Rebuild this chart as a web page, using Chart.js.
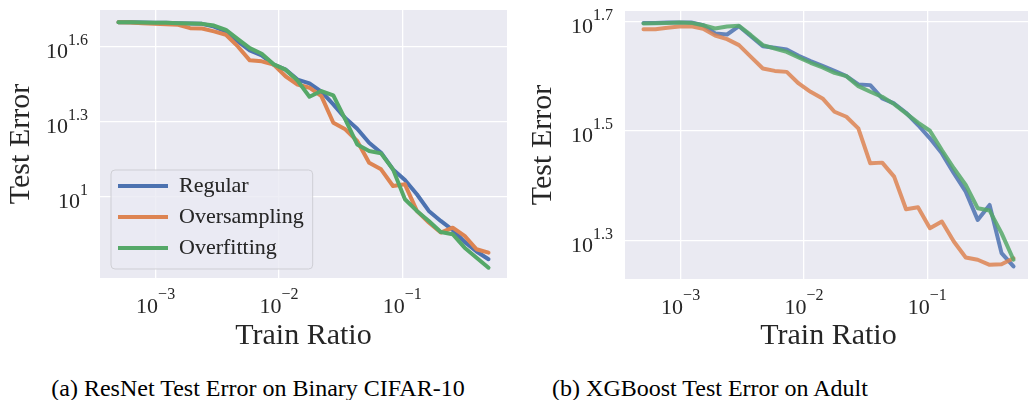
<!DOCTYPE html>
<html>
<head>
<meta charset="utf-8">
<script src="https://cdn.jsdelivr.net/npm/chart.js@4.4.1/dist/chart.umd.min.js"></script>
<style>
    html, body { margin: 0; padding: 0; background: #ffffff; }
    body { position: relative; width: 1028px; height: 400px; overflow: hidden; font-family: 'Liberation Serif', 'DejaVu Serif', serif; }
    #resnetChart { position: absolute; left: 0; top: 0; }
    #xgbChart { position: absolute; left: 520px; top: 0; }
    .caption { position: absolute; top: 375px; height: 26px; line-height: 26px; font-size: 24px; color: #000; text-align: center; white-space: nowrap; }
</style>
</head>
<body>
<canvas id="resnetChart" width="520" height="360"></canvas>
<canvas id="xgbChart" width="520" height="360"></canvas>
<div class="caption" style="left: 0; width: 516px;">(a) ResNet Test Error on Binary CIFAR-10</div>
<div class="caption" style="left: 455px; width: 510px;">(b) XGBoost Test Error on Adult</div>
<script>
// Train ratios shared by both panels
const trainRatio = [0.0005, 0.000625, 0.000781, 0.000976, 0.001219, 0.001524, 0.001904, 0.002379,
    0.002972, 0.003714, 0.004641, 0.005799, 0.007246, 0.009054, 0.01131, 0.01414,
    0.01767, 0.02208, 0.02759, 0.03447, 0.04308, 0.05383, 0.06726, 0.08405,
    0.1050, 0.1312, 0.1640, 0.2049, 0.2561, 0.3200, 0.3998, 0.5];

// (a) ResNet, Binary CIFAR-10
const resnetRegular = [49.77, 49.70, 49.62, 49.55, 49.47, 49.32, 49.17, 49.02, 47.83, 45.72, 41.70, 38.37, 36.66, 33.65, 32.14, 29.33,
    28.31, 26.23, 23.33, 20.57, 18.65, 16.39, 14.95, 12.82, 11.62, 10.19, 8.74, 7.97, 7.33, 6.57, 6.01, 5.60];
const resnetOversampling = [49.77, 49.62, 49.32, 49.02, 48.87, 48.57, 47.11, 46.97, 45.72, 44.32, 39.81, 35.02, 34.70, 33.65, 30.24, 28.02,
    27.21, 25.19, 19.71, 18.54, 16.65, 13.63, 12.82, 11.00, 11.17, 8.74, 7.85, 7.16, 7.49, 6.94, 6.14, 5.95];
const resnetOverfitting = [49.77, 49.70, 49.62, 49.55, 49.47, 49.32, 49.17, 49.02, 48.27, 46.41, 42.60, 39.21, 37.23, 33.76, 32.14, 29.06,
    25.04, 26.39, 25.35, 20.32, 16.14, 15.18, 14.86, 12.82, 9.73, 8.74, 7.97, 7.20, 7.05, 6.23, 5.68, 5.18];

// (b) XGBoost, Adult
const xgbRegular = [49.84, 49.84, 49.91, 49.91, 49.91, 49.35, 47.66, 47.46, 49.15, 47.13, 45.19, 44.87, 44.56, 43.39, 42.43, 41.60,
    40.74, 39.83, 38.46, 38.35, 36.26, 35.50, 34.14, 32.42, 30.65, 28.77, 26.46, 24.49, 21.74, 23.15, 18.90, 17.87];
const xgbOversampling = [48.54, 48.54, 48.81, 49.08, 49.15, 48.61, 47.26, 46.54, 45.38, 43.20, 41.13, 40.72, 40.55, 38.62, 37.29, 36.26,
    34.28, 33.57, 31.96, 27.59, 27.67, 26.09, 22.74, 22.93, 20.99, 21.59, 19.85, 18.56, 18.38, 17.99, 18.04, 18.50];
const xgbOverfitting = [49.70, 49.77, 49.84, 49.91, 49.84, 49.35, 48.67, 49.08, 49.22, 47.33, 45.38, 44.75, 44.12, 43.09, 42.13, 41.31,
    40.39, 39.83, 38.19, 37.29, 36.51, 35.40, 34.05, 32.74, 31.65, 29.18, 27.02, 25.19, 22.84, 22.61, 20.56, 18.38];

const seriesNames = ['Regular', 'Oversampling', 'Overfitting'];
const seriesColors = ['76, 114, 176', '221, 132, 82', '85, 168, 104'];

// tick exponents (labels are 10^exp)
const xTickExps = [-3, -2, -1];
const resnetYTickExps = [1, 1.3, 1.6];
const xgbYTickExps = [1.3, 1.5, 1.7];

const serif = "'Liberation Serif', 'DejaVu Serif', serif";
const textColor = '#262626';
Chart.defaults.font.family = serif;
Chart.defaults.color = textColor;

// axes background
const panelBackground = {
    id: 'panelBackground',
    beforeDraw(chart) {
        const {ctx, chartArea} = chart;
        ctx.save();
        ctx.fillStyle = '#EAEAF2';
        ctx.fillRect(chartArea.left, chartArea.top, chartArea.right - chartArea.left, chartArea.bottom - chartArea.top);
        ctx.restore();
    }
};

// "10" with a raised exponent
function drawPowerLabel(ctx, exp, x, baseY, supY, align) {
    const sup = String(exp).replace('-', '\u2212');
    ctx.font = '22px ' + serif;
    const wb = ctx.measureText('10').width;
    ctx.font = '16px ' + serif;
    const ws = ctx.measureText(sup).width;
    const x0 = align === 'center' ? x - (wb + ws) / 2 : x - wb - ws;
    ctx.font = '22px ' + serif;
    ctx.fillText('10', x0, baseY);
    ctx.font = '16px ' + serif;
    ctx.fillText(sup, x0 + wb, supY);
}

const powerTicks = {
    id: 'powerTicks',
    afterDraw(chart, args, opts) {
        const {ctx, chartArea, scales} = chart;
        ctx.save();
        ctx.fillStyle = textColor;
        ctx.textAlign = 'left';
        ctx.textBaseline = 'alphabetic';
        opts.x.forEach(exp => {
            const px = scales.x.getPixelForValue(Math.pow(10, exp));
            drawPowerLabel(ctx, exp, px, chartArea.bottom + 35, chartArea.bottom + 21, 'center');
        });
        opts.y.forEach(exp => {
            const py = scales.y.getPixelForValue(Math.pow(10, exp));
            drawPowerLabel(ctx, exp, chartArea.left - 12, py + 11.5, py - 1.5, 'right');
        });
        ctx.restore();
    }
};

// legend inside the axes, lower left, with a frame
const legendFrame = {
    id: 'legendFrame',
    afterLayout(chart) {
        const lg = chart.legend;
        if (!lg || !lg.options.display) return;
        const area = chart.chartArea;
        lg.left = area.left + 9;
        lg.right = area.right;
        lg.top = area.top + 156;
        lg.bottom = area.bottom;
    },
    beforeDatasetsDraw(chart) {
        const lg = chart.legend;
        if (!lg || !lg.options.display) return;
        const boxes = lg.legendHitBoxes;
        const x0 = boxes[0].left - 7;
        const y0 = boxes[0].top - 5;
        const x1 = Math.max(...boxes.map(b => b.left + b.width)) + 9;
        const last = boxes[boxes.length - 1];
        const y1 = last.top + last.height + 10;
        const r = 4;
        const ctx = chart.ctx;
        ctx.save();
        ctx.beginPath();
        ctx.moveTo(x0 + r, y0);
        ctx.arcTo(x1, y0, x1, y1, r);
        ctx.arcTo(x1, y1, x0, y1, r);
        ctx.arcTo(x0, y1, x0, y0, r);
        ctx.arcTo(x0, y0, x1, y0, r);
        ctx.closePath();
        ctx.fillStyle = 'rgba(234, 234, 242, 0.8)';
        ctx.fill();
        ctx.lineWidth = 1;
        ctx.strokeStyle = 'rgba(204, 204, 210, 0.9)';
        ctx.stroke();
        ctx.restore();
        lg.draw();
    }
};

function makeDataset(index, values, alpha) {
    return {
        label: seriesNames[index],
        data: trainRatio.map((x, i) => ({x: x, y: values[i]})),
        borderColor: `rgba(${seriesColors[index]}, ${alpha})`,
        backgroundColor: `rgba(${seriesColors[index]}, ${alpha})`,
        borderWidth: 4,
        pointRadius: 0,
        tension: 0,
        borderJoinStyle: 'round',
        borderCapStyle: 'round',
        order: 2 - index
    };
}

// Render one panel
function renderPanel(canvasId, series, yTickExps, yMin, yMax, panel) {
    const ctx = document.getElementById(canvasId).getContext('2d');
    new Chart(ctx, {
        type: 'line',
        data: {
            datasets: series.map((values, i) => makeDataset(i, values, panel.alpha))
        },
        options: {
            responsive: false,
            animation: false,
            events: [],
            layout: {
                autoPadding: false,
                padding: {left: 0, top: panel.top, right: panel.right, bottom: 0}
            },
            scales: {
                x: {
                    type: 'logarithmic',
                    min: 0.000354,
                    max: 0.706,
                    afterBuildTicks: scale => { scale.ticks = xTickExps.map(e => ({value: Math.pow(10, e)})); },
                    afterFit: scale => { scale.height = 360 - panel.top - 268; },
                    ticks: {display: false},
                    grid: {color: '#ffffff', lineWidth: 1.3, drawTicks: false},
                    border: {display: false},
                    title: {display: true, text: 'Train Ratio', font: {size: 30}, color: textColor, padding: {top: 0, bottom: 6}}
                },
                y: {
                    type: 'logarithmic',
                    min: yMin,
                    max: yMax,
                    afterBuildTicks: scale => { scale.ticks = yTickExps.map(e => ({value: Math.pow(10, e)})); },
                    afterFit: scale => { scale.width = panel.axisWidth; },
                    ticks: {display: false},
                    grid: {color: '#ffffff', lineWidth: 1.3, drawTicks: false},
                    border: {display: false},
                    title: {display: true, text: 'Test Error', font: {size: 30}, color: textColor, padding: {top: panel.titlePad, bottom: 0}}
                }
            },
            plugins: {
                tooltip: {enabled: false},
                legend: {
                    display: panel.legend,
                    position: 'chartArea',
                    align: 'start',
                    labels: {
                        boxWidth: 50,
                        boxHeight: 4,
                        padding: 9,
                        color: textColor,
                        font: {size: 22},
                        sort: (a, b) => a.datasetIndex - b.datasetIndex,
                        generateLabels: chart => Chart.defaults.plugins.legend.labels.generateLabels(chart)
                            .map(item => Object.assign(item, {lineWidth: 0}))
                    }
                },
                powerTicks: {x: xTickExps, y: yTickExps}
            }
        },
        plugins: [panelBackground, powerTicks, legendFrame]
    });
}

renderPanel('resnetChart', [resnetRegular, resnetOversampling, resnetOverfitting], resnetYTickExps, 4.71, 55.7,
    {top: 10, right: 13, axisWidth: 100, titlePad: 3.5, legend: true, alpha: 1});
renderPanel('xgbChart', [xgbRegular, xgbOversampling, xgbOverfitting], xgbYTickExps, 16.95, 52.4,
    {top: 11, right: 8, axisWidth: 105, titlePad: 5, legend: false, alpha: 0.85});
</script>
</body>
</html>
